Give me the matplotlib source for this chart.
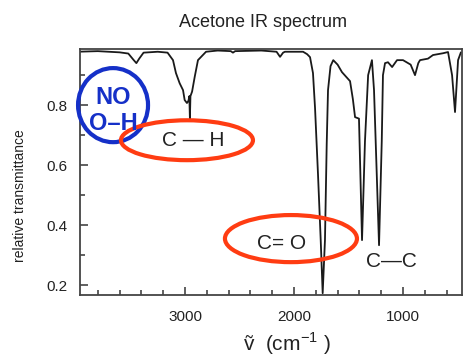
import numpy as np
import matplotlib.pyplot as plt
from matplotlib.patches import Ellipse

plt.rcParams['font.family'] = ['Liberation Sans', 'DejaVu Sans']
plt.rcParams['mathtext.fontset'] = 'custom'
plt.rcParams['mathtext.rm'] = 'Liberation Sans'

# Acetone IR spectrum (wavenumber cm-1, relative transmittance)
wavenumber = [3990, 3800, 3600, 3520, 3470, 3446, 3420, 3380, 3250, 3160, 3110, 3083,
              3049, 3018, 3003, 2982, 2968, 2960, 2955, 2950, 2935, 2911, 2881, 2807,
              2700, 2580, 2560, 2540, 2300, 2160, 2128, 2100, 2083, 1917, 1880, 1853,
              1826, 1807, 1780, 1755, 1737, 1716, 1700, 1688, 1665, 1640, 1600, 1560,
              1486, 1460, 1440, 1404, 1376, 1349, 1320, 1285, 1266, 1241, 1220, 1195,
              1184, 1165, 1138, 1100, 1055, 1000, 930, 890, 860, 844, 771, 725,
              633, 587, 550, 523, 495, 470]
transmittance = [0.978, 0.980, 0.976, 0.972, 0.950, 0.940, 0.955, 0.975, 0.978, 0.975, 0.950, 0.907,
                 0.873, 0.850, 0.817, 0.807, 0.815, 0.830, 0.755, 0.830, 0.845, 0.894, 0.950, 0.978,
                 0.982, 0.980, 0.975, 0.980, 0.982, 0.978, 0.961, 0.975, 0.978, 0.978, 0.970, 0.960,
                 0.907, 0.790, 0.570, 0.350, 0.173, 0.350, 0.670, 0.850, 0.930, 0.950, 0.935, 0.910,
                 0.880, 0.820, 0.760, 0.755, 0.350, 0.680, 0.900, 0.950, 0.850, 0.570, 0.333, 0.680,
                 0.900, 0.940, 0.943, 0.927, 0.950, 0.950, 0.935, 0.900, 0.940, 0.950, 0.955, 0.967,
                 0.973, 0.977, 0.900, 0.777, 0.950, 0.975]

x_major = [3000, 2000, 1000]
x_minor = np.arange(3800, 500, -200)
y_major = [0.2, 0.4, 0.6, 0.8]
y_minor = [0.3, 0.5, 0.7, 0.9]

fig = plt.figure(figsize=(4.66, 3.58), dpi=100)
ax = fig.add_axes([0.1717, 0.176, 0.8197, 0.687])

ax.plot(wavenumber, transmittance, color='#1a1a1a', lw=1.3)

ax.set_xlim(3963, 459)
ax.set_ylim(0.167, 0.987)

ax.set_xticks(x_major)
ax.set_xticks(x_minor, minor=True)
ax.set_yticks(y_major)
ax.set_yticks(y_minor, minor=True)
ax.set_yticklabels(['0.2', '0.4', '0.6', '0.8'])
ax.tick_params(which='both', direction='in', colors='#444444', labelcolor='#222222')
ax.tick_params(which='major', length=6, width=1.2, labelsize=11)
ax.tick_params(which='minor', length=3.5, width=1.2)
ax.tick_params(axis='x', which='major', pad=11)
ax.tick_params(axis='y', which='major', pad=9)
for s in ax.spines.values():
    s.set_color('#444444')
    s.set_linewidth(1.3)

ax.set_title('Acetone IR spectrum', fontsize=13, color='#222222', x=0.48, pad=16)
fig.text(20 / 466, 1 - 196 / 358, 'relative transmittance', rotation=90,
         fontsize=10, color='#222222', ha='center', va='center')
fig.text(287 / 466, 1 - 344 / 358, '\u1e7d  (cm$^{\\mathrm{-1}}$ )', fontsize=15,
         color='#222222', ha='center', va='center')

# annotation ellipses
blue = '#1530c8'
red = '#ff3c12'
ax.add_patch(Ellipse((3660, 0.80), 642, 0.247, fill=False, ec=blue, lw=3, clip_on=False, zorder=5))
ax.add_patch(Ellipse((2982, 0.683), 1211, 0.133, fill=False, ec=red, lw=3, clip_on=False, zorder=5))
ax.add_patch(Ellipse((2028, 0.355), 1211, 0.157, fill=False, ec=red, lw=3, clip_on=False, zorder=5))

ax.text(3660, 0.827, 'NO', color=blue, fontsize=17, fontweight='bold', ha='center', va='center', zorder=6)
ax.text(3660, 0.740, 'O\u2013H', color=blue, fontsize=17, fontweight='bold', ha='center', va='center', zorder=6)
ax.text(2927, 0.683, 'C \u2014 H', color='#222222', fontsize=15, ha='center', va='center', zorder=6)
ax.text(2110, 0.340, 'C= O', color='#222222', fontsize=15, ha='center', va='center', zorder=6)
ax.text(1110, 0.277, 'C\u2014C', color='#222222', fontsize=15, ha='center', va='center', zorder=6)

fig.savefig('out.png', dpi=100)
